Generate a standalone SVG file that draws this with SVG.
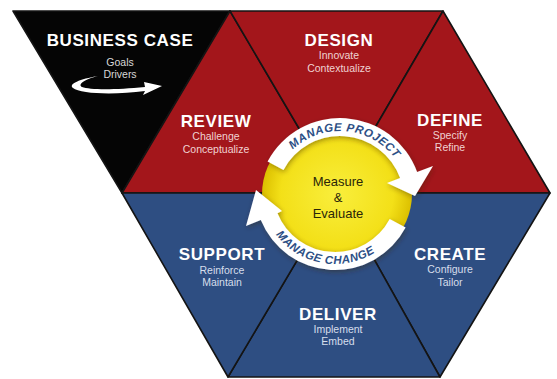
<svg xmlns="http://www.w3.org/2000/svg" width="557" height="379" viewBox="0 0 557 379">
<style>
.tri{stroke:#141414;stroke-width:1.6;stroke-linejoin:round}
.red{fill:#a3161b}
.blue{fill:#2e4e82}
.blk{fill:#050505}
.title{font-family:"Liberation Sans",Arial,sans-serif;font-weight:bold;font-size:17px;fill:#ffffff;text-anchor:middle;letter-spacing:0.6px}
.sub{font-family:"Liberation Sans",Arial,sans-serif;font-size:10.5px;text-anchor:middle}
.sr{fill:#f0d2d2}
.sb{fill:#d6deec}
.sk{fill:#d8d8d8}
.ctr{font-family:"Liberation Sans",Arial,sans-serif;font-size:13px;fill:#2a2608;text-anchor:middle}
.band{fill:#ffffff}
.arc{font-family:"Liberation Sans",Arial,sans-serif;font-weight:bold;font-style:italic;font-size:11.5px;fill:#2d4f85;letter-spacing:0.5px}
</style>
<defs>
<radialGradient id="yg" cx="0.5" cy="0.5" r="0.5">
<stop offset="0" stop-color="#f9ee3c"/>
<stop offset="0.75" stop-color="#f3e018"/>
<stop offset="1" stop-color="#dcc000"/>
</radialGradient>
<filter id="sh" x="-20%" y="-20%" width="140%" height="140%">
<feDropShadow dx="1" dy="2" stdDeviation="2.5" flood-color="#3a2a00" flood-opacity="0.4"/>
</filter>
<path id="tp1" d="M283.5,160.4 A69 69 0 0 1 402.5,170.8"/>
<path id="tp2" d="M267.9,221.3 A74 74 0 0 0 387.3,242.3"/>
</defs>
<rect width="557" height="379" fill="#ffffff"/>

<g id="business-case">
<polygon class="tri blk" points="13,11 230,11 122,193"/>
<text class="title" x="120" y="46">BUSINESS CASE</text>
<text class="sub sk" x="120" y="66">Goals</text>
<text class="sub sk" x="120" y="78">Drivers</text>
<path fill="#ffffff" d="M98,76 C80,79 68,84 73,88 C80,94 115,95 145,91 L143,95 L162,86 L144,82 L145,87 C115,90 90,90 82,87 C77,84 86,79 98,76 Z"/>
</g>

<g id="review">
<polygon class="tri red" points="230,11 122,193 337,193"/>
<text class="title" x="216" y="127">REVIEW</text>
<text class="sub sr" x="216" y="140">Challenge</text>
<text class="sub sr" x="216" y="153">Conceptualize</text>
</g>

<g id="design">
<polygon class="tri red" points="230,11 443,11 337,193"/>
<text class="title" x="339" y="46">DESIGN</text>
<text class="sub sr" x="339" y="59">Innovate</text>
<text class="sub sr" x="339" y="72">Contextualize</text>
</g>

<g id="define">
<polygon class="tri red" points="443,11 550,193 337,193"/>
<text class="title" x="450" y="126">DEFINE</text>
<text class="sub sr" x="450" y="139">Specify</text>
<text class="sub sr" x="450" y="151">Refine</text>
</g>

<g id="create">
<polygon class="tri blue" points="550,193 440,377 337,193"/>
<text class="title" x="450" y="260">CREATE</text>
<text class="sub sb" x="450" y="273">Configure</text>
<text class="sub sb" x="450" y="286">Tailor</text>
</g>

<g id="deliver">
<polygon class="tri blue" points="440,377 228,377 337,193"/>
<text class="title" x="338" y="320">DELIVER</text>
<text class="sub sb" x="338" y="333">Implement</text>
<text class="sub sb" x="338" y="345">Embed</text>
</g>

<g id="support">
<polygon class="tri blue" points="228,377 122,193 337,193"/>
<text class="title" x="222" y="260">SUPPORT</text>
<text class="sub sb" x="222" y="274">Reinforce</text>
<text class="sub sb" x="222" y="286">Maintain</text>
</g>

<g id="measure-evaluate">
<ellipse cx="337" cy="194" rx="75" ry="71" fill="url(#yg)"/>
<text class="ctr" x="338" y="186">Measure</text>
<text class="ctr" x="338" y="202">&amp;</text>
<text class="ctr" x="338" y="218">Evaluate</text>
</g>

<g id="connectors">
<g id="manage-project">
<path class="band" filter="url(#sh)" d="M267.6,161.5 A82 82 0 0 1 417.1,172 L433,166 L415,196 L387,183 L400.1,178.1 A64 64 0 0 0 283.5,170 Z"/>
<text class="arc"><textPath href="#tp1" startOffset="50%" text-anchor="middle">MANAGE PROJECT</textPath></text>
</g>
<g id="manage-change">
<path class="band" filter="url(#sh)" d="M405.6,227.6 A80 80 0 0 1 260.8,220 L246,226 L256,190 L282,211 L277.5,213.2 A62 62 0 0 0 389.7,219.1 Z"/>
<text class="arc"><textPath href="#tp2" startOffset="50%" text-anchor="middle">MANAGE CHANGE</textPath></text>
</g>
</g>
</svg>
